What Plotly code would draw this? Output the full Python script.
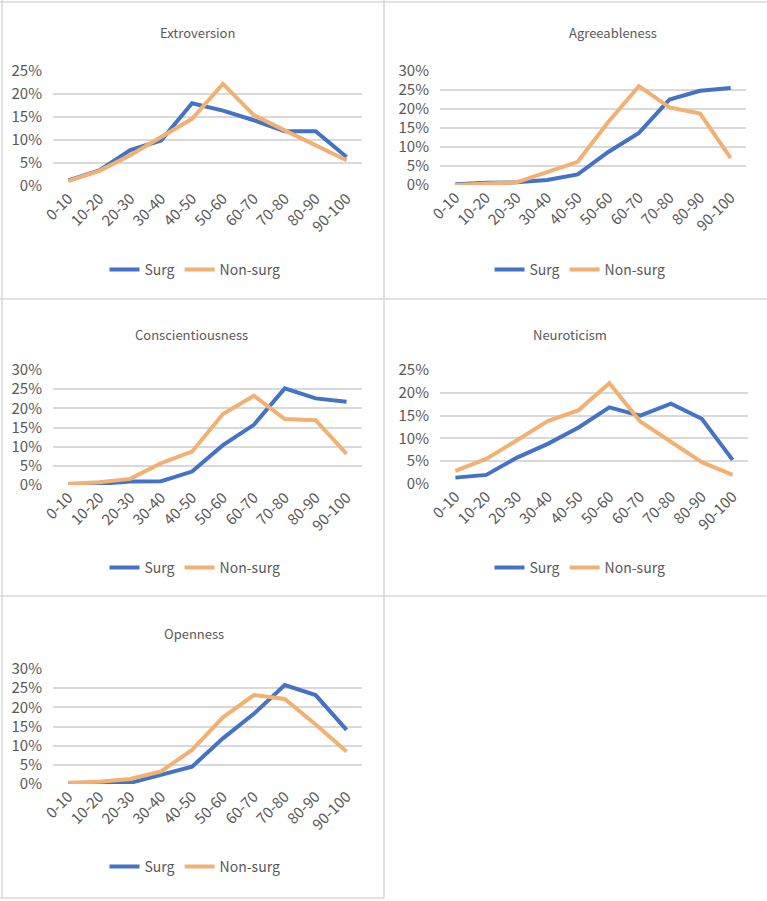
import plotly.graph_objects as go

W, H = 767, 901

categories = ["0-10", "10-20", "20-30", "30-40", "40-50", "50-60", "60-70", "70-80", "80-90", "90-100"]

extro_surg = [0.012, 0.034, 0.078, 0.099, 0.180, 0.164, 0.143, 0.119, 0.119, 0.063]
extro_non = [0.011, 0.033, 0.067, 0.107, 0.146, 0.222, 0.154, 0.121, 0.088, 0.056]

agree_surg = [0.002, 0.006, 0.007, 0.013, 0.028, 0.087, 0.137, 0.225, 0.248, 0.255]
agree_non = [0.000, 0.003, 0.007, 0.034, 0.061, 0.166, 0.260, 0.204, 0.188, 0.071]

consc_surg = [0.002, 0.003, 0.009, 0.010, 0.035, 0.104, 0.157, 0.252, 0.226, 0.217]
consc_non = [0.003, 0.007, 0.016, 0.057, 0.087, 0.185, 0.233, 0.172, 0.169, 0.081]

neuro_surg = [0.014, 0.020, 0.058, 0.088, 0.124, 0.168, 0.150, 0.176, 0.143, 0.053]
neuro_non = [0.029, 0.055, 0.096, 0.138, 0.162, 0.221, 0.137, 0.093, 0.048, 0.020]

open_surg = [0.002, 0.004, 0.003, 0.023, 0.045, 0.119, 0.183, 0.258, 0.232, 0.141]
open_non = [0.003, 0.006, 0.013, 0.033, 0.089, 0.174, 0.232, 0.222, 0.155, 0.085]

titles = ["Extroversion", "Agreeableness", "Conscientiousness", "Neuroticism", "Openness"]
series = [
    (extro_surg, extro_non),
    (agree_surg, agree_non),
    (consc_surg, consc_non),
    (neuro_surg, neuro_non),
    (open_surg, open_non),
]
y_max = [0.25, 0.30, 0.30, 0.25, 0.30]

# layout geometry in pixels
plot_boxes = [  # x0, x1, ytop, ybottom
    (53, 362, 71, 186),
    (440, 746, 71, 185),
    (53, 362, 370, 485),
    (440, 748, 370, 484),
    (53, 362, 669, 784),
]
title_pos = [(197, 33), (613, 33), (191, 334), (570, 334), (194, 633)]
legend_pos = [(195, 270), (580, 270), (195, 568), (580, 568), (195, 867)]

BLUE = "#4472C4"
ORANGE = "#F2B173"
FONT = "Noto Sans CJK JP"
TXT = "#595959"
GRID = "#D9D9D9"


def px(x):
    return x / W


def py(y):
    return 1 - y / H


fig = go.Figure()
layout = dict(
    width=W, height=H, margin=dict(l=0, r=0, t=0, b=0, pad=0), autosize=False,
    paper_bgcolor="white", plot_bgcolor="white",
    font=dict(family=FONT, size=14, color=TXT),
    annotations=[], shapes=[],
)

for i in range(5):
    n = "" if i == 0 else str(i + 1)
    xa, ya = "x" + n, "y" + n
    leg = "legend" + n
    s, ns = series[i]
    fig.add_trace(go.Scatter(x=categories, y=s, name="Surg", mode="lines",
                             line=dict(color=BLUE, width=4), xaxis=xa, yaxis=ya,
                             legend=leg, showlegend=True))
    fig.add_trace(go.Scatter(x=categories, y=ns, name="Non-surg", mode="lines",
                             line=dict(color=ORANGE, width=4), xaxis=xa, yaxis=ya,
                             legend=leg, showlegend=True))
    x0, x1, yt, yb = plot_boxes[i]
    layout["xaxis" + n] = dict(
        domain=[px(x0), px(x1)], anchor=ya, type="category", automargin=False,
        tickangle=-45, showgrid=False, showline=False, zeroline=False,
        ticks="", tickfont=dict(size=15, color=TXT), range=[-0.5, 9.5],
    )
    layout["yaxis" + n] = dict(
        domain=[py(yb), py(yt)], anchor=xa, range=[0, y_max[i]], automargin=False,
        dtick=0.05, tickformat=".0%", showgrid=True, gridcolor=GRID,
        gridwidth=1.5, zeroline=False, showline=False, ticks="",
        tickfont=dict(size=15, color=TXT), ticklabelstandoff=10,
    )
    lx, ly = legend_pos[i]
    layout[leg] = dict(
        orientation="h", x=px(lx), y=py(ly), xanchor="center", yanchor="middle",
        font=dict(size=14, color=TXT), bgcolor="rgba(0,0,0,0)",
        itemwidth=30, tracegroupgap=0,
    )
    tx, ty = title_pos[i]
    layout["annotations"].append(dict(
        text=titles[i], x=px(tx), y=py(ty), xref="paper", yref="paper",
        xanchor="center", yanchor="middle", showarrow=False,
        font=dict(size=13, color=TXT, family=FONT),
    ))

# panel borders
border = dict(type="line", xref="paper", yref="paper", line=dict(color=GRID, width=1.5))
for (xa0, ya0, xa1, ya1) in [
    (0, 2, 767, 2), (0, 299, 767, 299), (0, 596, 767, 596), (0, 898, 384, 898),
    (2, 0, 2, 898), (384, 0, 384, 898),
]:
    layout["shapes"].append(dict(border, x0=px(xa0), y0=py(ya0), x1=px(xa1), y1=py(ya1)))

fig.update_layout(**layout)
fig.write_html("out.html", config={"displayModeBar": False},
               post_script="document.body.style.margin='0';")
